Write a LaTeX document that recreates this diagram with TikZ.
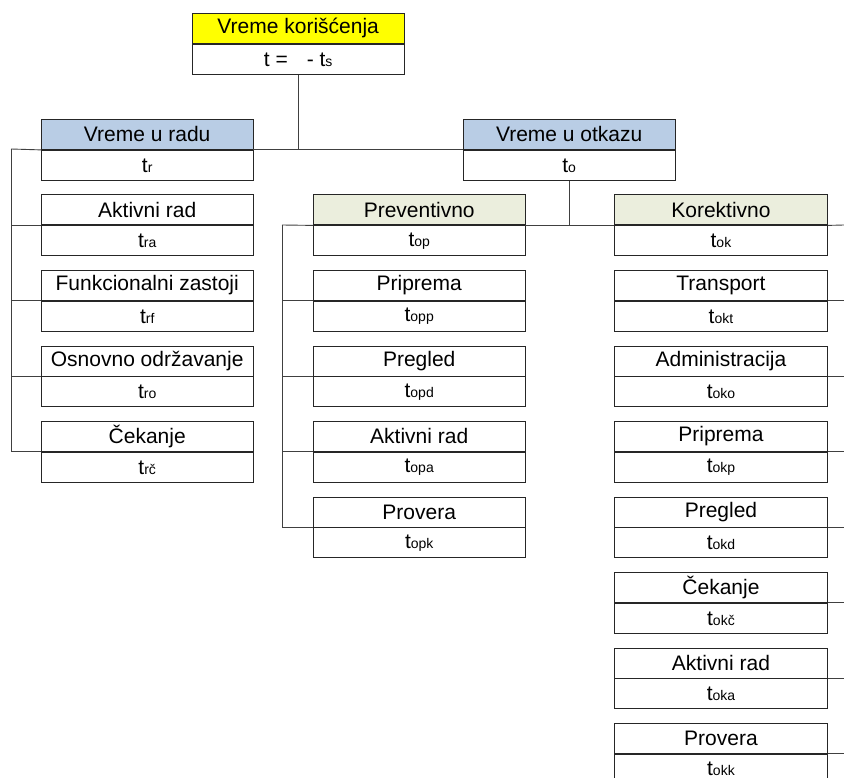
\documentclass[tikz,border=0pt]{standalone}
\usepackage{fontspec}
\setmainfont{Liberation Sans}
\definecolor{boxline}{HTML}{262626}
\definecolor{linkgray}{HTML}{404040}
\definecolor{headyellow}{HTML}{FFFF00}
\definecolor{headblue}{HTML}{B9CDE5}
\definecolor{headolive}{HTML}{EBEEDD}
\newcommand{\tsub}[1]{t{\fontsize{14}{14}\selectfont #1}}
\tikzset{
  cell/.style={draw=boxline, line width=0.9pt, minimum width=211.5pt,
    minimum height=30pt, inner sep=0pt, anchor=north west,
    font=\fontsize{21}{24}\selectfont},
  valcell/.style={cell, fill=white, anchor=north},
  link/.style={draw=linkgray, line width=0.9pt},
}
\begin{document}
\begin{tikzpicture}[x=1pt, y=-1pt]
\useasboundingbox (0,0) rectangle (844,778);

% root
\node[cell, fill=headyellow] (root) at (192,13) {Vreme korišćenja};
\node[valcell] (root-t) at (root.south) {t =\hspace{0.9em}- \tsub{s}};

% two main groups
\node[cell, fill=headblue] (rad) at (41,119) {Vreme u radu};
\node[valcell] (rad-t) at (rad.south) {\tsub{r}};
\node[cell, fill=headblue] (otk) at (463,119) {Vreme u otkazu};
\node[valcell] (otk-t) at (otk.south) {\tsub{o}};

% subgroups of failure time
\node[cell, fill=headolive] (prev) at (313,194.5) {Preventivno};
\node[valcell] (prev-t) at (prev.south) {\tsub{op}};
\node[cell, fill=headolive, minimum width=213pt] (kor) at (614,194.5) {Korektivno};
\node[valcell, minimum width=213pt] (kor-t) at (kor.south) {\tsub{ok}};

% operating time components
\foreach \n/\k/\lbl/\s in {la/1/Aktivni rad/ra, lf/2/Funkcionalni zastoji/rf,
    lo/3/Osnovno održavanje/ro, lc/4/Čekanje/rč}{
  \node[cell, fill=white] (\n) at (41,119+75.5*\k) {\lbl};
  \node[valcell] (\n-t) at (\n.south) {\tsub{\s}};
}

% preventive components
\foreach \n/\k/\lbl/\s in {pp/2/Priprema/opp, pg/3/Pregled/opd,
    pa/4/Aktivni rad/opa, pk/5/Provera/opk}{
  \node[cell, fill=white] (\n) at (313,119+75.5*\k) {\lbl};
  \node[valcell] (\n-t) at (\n.south) {\tsub{\s}};
}

% corrective components
\foreach \n/\k/\lbl/\s in {kt/2/Transport/okt, ka/3/Administracija/oko,
    kp/4/Priprema/okp, kg/5/Pregled/okd, kc/6/Čekanje/okč,
    kr/7/Aktivni rad/oka}{
  \node[cell, fill=white, minimum width=213pt] (\n) at (614,119+75.5*\k) {\lbl};
  \node[valcell, minimum width=213pt] (\n-t) at (\n.south) {\tsub{\s}};
}
% last row runs off the bottom edge; its value is lifted to stay visible
\node[cell, fill=white, minimum width=213pt] (kk) at (614,119+75.5*8) {Provera};
\node[valcell, minimum width=213pt] (kk-t) at (kk.south) {\raisebox{2pt}{\tsub{okk}}};

% bus coordinates
\coordinate (lbus) at (11,149);
\coordinate (pbus) at (282,225);
\coordinate (rbus) at (844,225);

% root to main groups
\draw[link] (root-t.south) -- (root-t.south |- rad.south);
\draw[link] (rad.south east) -- (otk.south west);
\draw[link] (lbus) -- (rad.south west);

% operating time tree
\draw[link] (lbus) -- (lbus |- lc.south);
\foreach \n in {la,lf,lo,lc}
  \draw[link] (lbus |- \n.south) -- (\n.south west);

% failure time to subgroups
\draw[link] (otk-t.south) -- (otk-t.south |- prev.south);
\draw[link] (prev.south east) -- (kor.south west);

% preventive tree
\draw[link] (pbus) -- (prev.south west);
\draw[link] (pbus) -- (pbus |- pk.south);
\foreach \n in {pp,pg,pa,pk}
  \draw[link] (pbus |- \n.south) -- (\n.south west);

% corrective tree (bus runs past the right edge)
\draw[link] (kor.south east) -- (rbus);
\foreach \n in {kt,ka,kp,kg,kc,kr,kk}
  \draw[link] (\n.south east) -- (\n.south east -| rbus);
\end{tikzpicture}
\end{document}
